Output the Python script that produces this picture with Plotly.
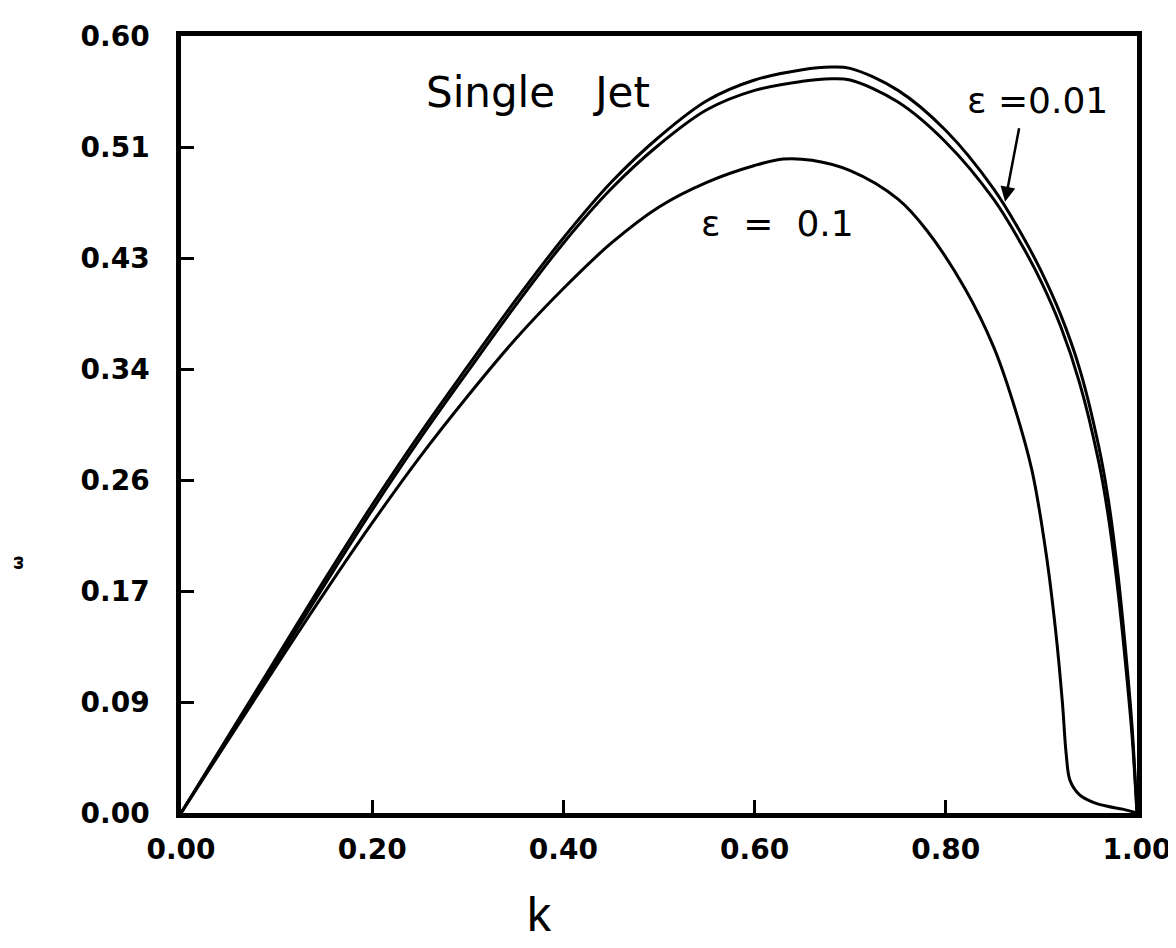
import plotly.graph_objects as go

# ---- data ----
k_upper = [0, 0.05, 0.10, 0.15, 0.20, 0.25, 0.30, 0.35, 0.40, 0.45, 0.50, 0.55, 0.60,
           0.65, 0.68, 0.70, 0.75, 0.80, 0.85, 0.88, 0.90, 0.92, 0.94, 0.96, 0.97,
           0.98, 0.99, 0.995, 1.00]
w_upper_a = [0, 0.060, 0.120, 0.180, 0.238, 0.293, 0.345, 0.396, 0.444, 0.487, 0.522,
             0.550, 0.566, 0.574, 0.576, 0.575, 0.558, 0.527, 0.482, 0.446, 0.418,
             0.385, 0.343, 0.283, 0.242, 0.185, 0.110, 0.065, 0.0]
w_upper_b = [0, 0.059, 0.117, 0.176, 0.234, 0.289, 0.341, 0.392, 0.440, 0.482, 0.516,
             0.543, 0.558, 0.565, 0.567, 0.566, 0.549, 0.518, 0.474, 0.438, 0.410,
             0.376, 0.332, 0.271, 0.229, 0.172, 0.100, 0.058, 0.0]

k_lower = [0, 0.05, 0.10, 0.15, 0.20, 0.25, 0.30, 0.35, 0.40, 0.45, 0.50, 0.55, 0.60,
           0.63, 0.66, 0.70, 0.75, 0.78, 0.82, 0.85, 0.87, 0.89, 0.905, 0.915, 0.922,
           0.926, 0.930, 0.940, 0.955, 0.97, 0.985, 0.995, 1.0]
w_lower = [0, 0.057, 0.114, 0.170, 0.224, 0.275, 0.322, 0.366, 0.405, 0.440, 0.468,
           0.487, 0.500, 0.505, 0.504, 0.496, 0.474, 0.450, 0.405, 0.360, 0.318,
           0.265, 0.200, 0.140, 0.085, 0.045, 0.025, 0.014, 0.008, 0.005, 0.003,
           0.001, 0.0]

x_tickvals = [0.0, 0.2, 0.4, 0.6, 0.8, 1.0]
x_ticktext = ["0.00", "0.20", "0.40", "0.60", "0.80", "1.00"]
y_tickvals = [i * 0.6 / 7 for i in range(8)]
y_ticktext = ["0.00", "0.09", "0.17", "0.26", "0.34", "0.43", "0.51", "0.60"]

FONT = "DejaVu Sans, Liberation Sans, sans-serif"
FONT_K = "Liberation Sans, Arial, sans-serif"

fig = go.Figure()
for kk, ww in [(k_upper, w_upper_a), (k_upper, w_upper_b), (k_lower, w_lower)]:
    fig.add_trace(go.Scatter(x=kk, y=ww, mode="lines",
                             line=dict(color="black", width=3),
                             line_shape="spline", hoverinfo="skip",
                             showlegend=False))

axis_common = dict(showgrid=False, zeroline=False, showline=True, linecolor="black",
                   linewidth=4.5, mirror=True, ticks="inside", ticklen=13,
                   tickwidth=3, tickcolor="black",
                   tickfont=dict(family=FONT, size=28, color="black", weight="bold"))

fig.update_xaxes(range=[0, 1.0], tickvals=x_tickvals, ticktext=x_ticktext,
                 ticklabelstandoff=8, **axis_common)
fig.update_yaxes(range=[0, 0.6], tickvals=y_tickvals, ticktext=y_ticktext,
                 ticklabelstandoff=21, **axis_common)

annots = [
    dict(x=0.373, y=0.556, xref="x", yref="y", text="Single   Jet", showarrow=False,
         font=dict(family=FONT, size=42, color="black")),
    dict(x=0.896, y=0.550, xref="x", yref="y", text="ε =0.01", showarrow=False,
         font=dict(family=FONT, size=36, color="black")),
    dict(x=0.624, y=0.455, xref="x", yref="y", text="ε  =  0.1", showarrow=False,
         font=dict(family=FONT, size=36, color="black")),
    dict(x=0.862, y=0.472, xref="x", yref="y", ax=0.877, ay=0.530, axref="x",
         ayref="y", text="", showarrow=True, arrowhead=2, arrowsize=1.2,
         arrowwidth=2.5, arrowcolor="black"),
    dict(x=0.375, y=-0.167, xref="paper", yref="paper", text="k", showarrow=False,
         font=dict(family=FONT_K, size=48, color="black")),
    dict(x=-0.183, y=0.31, xref="paper", yref="paper", text="ω", showarrow=False,
         textangle=-90, font=dict(family=FONT, size=16, color="black", weight="bold")),
]
fig.update_layout(annotations=annots, width=1176, height=948,
                  margin=dict(l=173, r=41, t=24, b=143),
                  plot_bgcolor="white", paper_bgcolor="white")

fig.write_html("out.html")
